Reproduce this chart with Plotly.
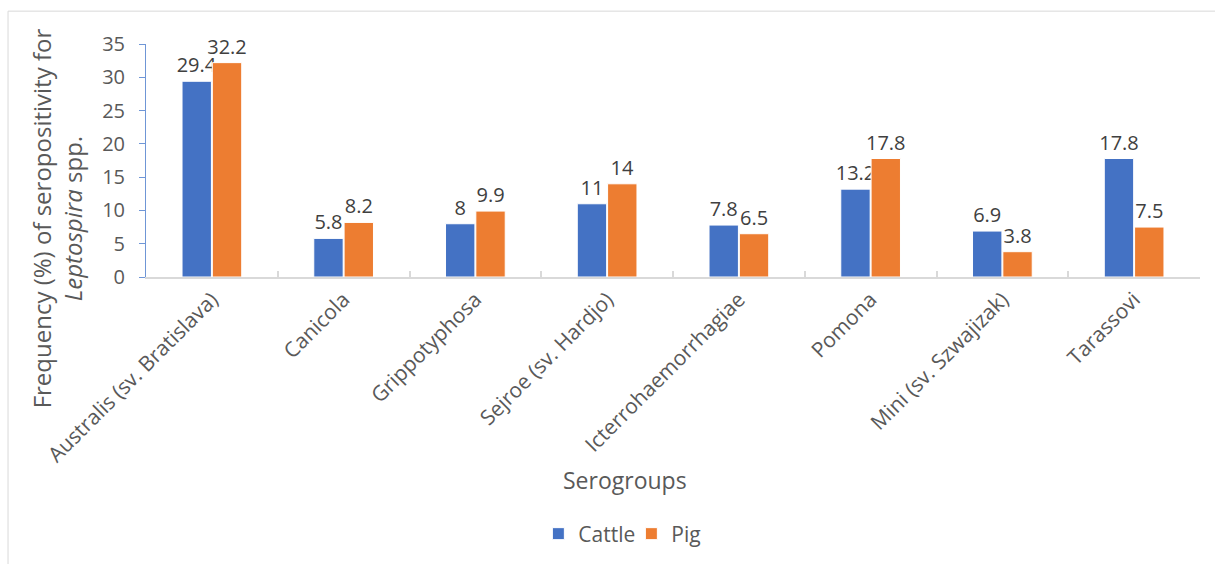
import plotly.graph_objects as go

categories = ["Australis (sv. Bratislava)", "Canicola", "Grippotyphosa", "Sejroe (sv. Hardjo)",
              "Icterrohaemorrhagiae", "Pomona", "Mini (sv. Szwajizak)", "Tarassovi"]
cattle = [29.4, 5.8, 8, 11, 7.8, 13.2, 6.9, 17.8]
pig = [32.2, 8.2, 9.9, 14, 6.5, 17.8, 3.8, 7.5]
y_ticks = [0, 5, 10, 15, 20, 25, 30, 35]

FONT = "Open Sans"
fig = go.Figure()
for name, vals, col in [("Cattle", cattle, "#4472C4"), ("Pig", pig, "#ED7D31")]:
    fig.add_trace(go.Bar(name=name, x=categories, y=vals,
                         marker=dict(color=col, line=dict(color="white", width=1)),
                         text=[f"{v:g}" for v in vals], textposition="outside", cliponaxis=False,
                         constraintext="none",
                         textfont=dict(size=20, color="#404040", family=FONT)))

fig.update_layout(
    width=1215, height=564,
    margin=dict(l=146, r=15, t=44, b=286),
    paper_bgcolor="white", plot_bgcolor="white",
    barmode="group", bargap=0.54, bargroupgap=0.03,
    font=dict(family=FONT, color="#595959", size=20),
    showlegend=True,
    legend=dict(orientation="h", x=0.4605, y=-1.094, xanchor="center", yanchor="middle",
                font=dict(size=21, color="#595959"), itemwidth=30, tracegroupgap=0,
                entrywidth=48, entrywidthmode="pixels"),
    xaxis=dict(showline=True, linecolor="#d9d9d9", linewidth=2, ticks="inside", tickson="boundaries",
               ticklen=6, tickcolor="#d9d9d9", tickwidth=2, tickangle=-45,
               tickfont=dict(size=21, color="#595959"), showgrid=False),
    yaxis=dict(range=[0, 35], tickvals=y_ticks, showline=True, linecolor="#6f96d6", linewidth=1,
               ticks="outside", ticklen=6, tickcolor="#6f96d6", showgrid=False, zeroline=False,
               ticklabelstandoff=10, tickfont=dict(size=20, color="#595959")),
    shapes=[
        dict(type="line", xref="paper", yref="paper", x0=-0.1309, x1=1.02, y0=1.1410, y1=1.1410,
             line=dict(color="#d9d9d9", width=1)),
        dict(type="line", xref="paper", yref="paper", x0=-0.1309, x1=-0.1309, y0=1.1410, y1=-1.3,
             line=dict(color="#d9d9d9", width=1)),
    ],
    annotations=[
        dict(text="Frequency (%) of seropositivity for<br><i>Leptospira</i> spp.", textangle=-90,
             xref="paper", yref="paper", x=-0.0844, y=0.252, xanchor="center", yanchor="middle",
             showarrow=False, font=dict(size=24, color="#595959")),
        dict(text="Serogroups", xref="paper", yref="paper", x=0.4545, y=-0.872,
             xanchor="center", yanchor="middle", showarrow=False, font=dict(size=23, color="#595959")),
    ],
)
fig.write_html("out.html")
